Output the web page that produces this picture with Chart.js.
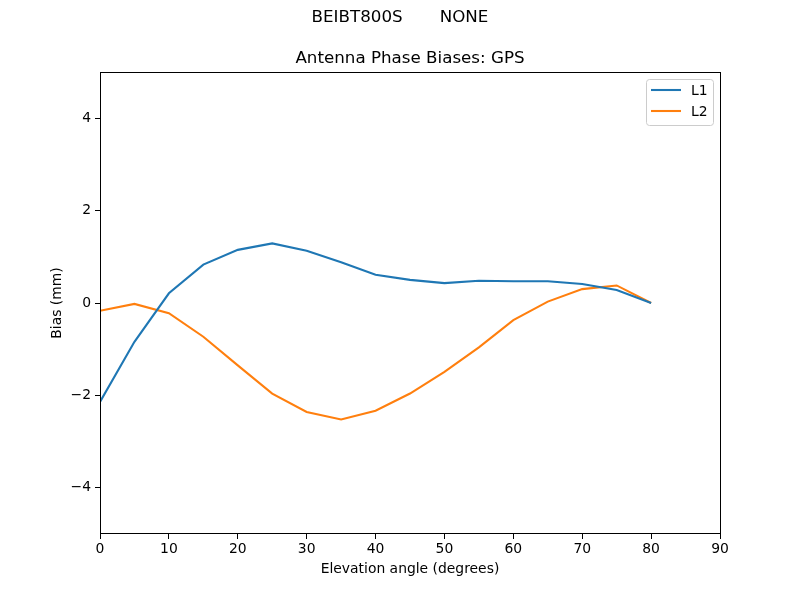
<!DOCTYPE html>
<html>
<head>
<meta charset="utf-8">
<script src="https://cdn.jsdelivr.net/npm/chart.js@4"></script>
<style>
html,body{margin:0;padding:0;background:#fff;}
#wrap{width:800px;height:600px;}
</style>
</head>
<body>
<div id="wrap"><canvas id="c" width="800" height="600"></canvas></div>
<script>
const suptitle = "BEIBT800S       NONE";
const title = "Antenna Phase Biases: GPS";
const xLabel = "Elevation angle (degrees)";
const yLabel = "Bias (mm)";
const elevations = [0, 5, 10, 15, 20, 25, 30, 35, 40, 45, 50, 55, 60, 65, 70, 75, 80];
const l1 = [-2.14, -0.84, 0.21, 0.83, 1.15, 1.29, 1.13, 0.88, 0.61, 0.50, 0.43, 0.48, 0.47, 0.47, 0.41, 0.28, 0.0];
const l2 = [-0.17, -0.02, -0.22, -0.73, -1.35, -1.96, -2.36, -2.52, -2.33, -1.96, -1.49, -0.96, -0.37, 0.03, 0.30, 0.38, 0.0];
const seriesNames = ["L1", "L2"];
const colors = ["#1f77b4", "#ff7f0e"];
const xTicks = [0, 10, 20, 30, 40, 50, 60, 70, 80, 90];
const yTicks = [-4, -2, 0, 2, 4];

const FONT = "'DejaVu Sans', sans-serif";

const pts = (ys) => elevations.map((x, i) => ({x: x, y: ys[i]}));

const decor = {
  id: 'decor',
  afterDraw(chart) {
    const ctx = chart.ctx;
    const a = chart.chartArea;
    ctx.save();
    // frame
    ctx.strokeStyle = '#000';
    ctx.lineWidth = 1;
    ctx.strokeRect(Math.floor(a.left) + 0.5, Math.floor(a.top) + 0.5, Math.round(a.right - a.left), Math.round(a.bottom - a.top) - 1);
    // titles
    ctx.fillStyle = '#000';
    ctx.textAlign = 'center';
    ctx.textBaseline = 'middle';
    ctx.font = "16.7px " + FONT;
    ctx.fillText(suptitle, 400, 18);
    ctx.fillText(title, (a.left + a.right) / 2, 59);
    // axis labels
    ctx.font = "13.9px " + FONT;
    ctx.fillText(xLabel, (a.left + a.right) / 2, 569);
    ctx.save();
    ctx.translate(57, (a.top + a.bottom) / 2);
    ctx.rotate(-Math.PI / 2);
    ctx.fillText(yLabel, 0, 0);
    ctx.restore();
    // legend
    const lx = 646, ly = 79, lw = 67, lh = 46;
    ctx.fillStyle = 'rgba(255,255,255,0.8)';
    ctx.strokeStyle = '#cccccc';
    ctx.beginPath();
    if (ctx.roundRect) ctx.roundRect(lx + 0.5, ly + 0.5, lw, lh, 3); else ctx.rect(lx + 0.5, ly + 0.5, lw, lh);
    ctx.fill();
    ctx.stroke();
    chart.data.datasets.forEach((ds, i) => {
      const y = 90 + i * 21;
      ctx.strokeStyle = ds.borderColor;
      ctx.lineWidth = 2.08;
      ctx.beginPath();
      ctx.moveTo(651, y);
      ctx.lineTo(681, y);
      ctx.stroke();
      ctx.fillStyle = '#000';
      ctx.textAlign = 'left';
      ctx.font = "13.9px " + FONT;
      ctx.fillText(ds.label, 691, y + 1);
    });
    ctx.restore();
  }
};

new Chart(document.getElementById('c'), {
  type: 'line',
  data: {
    datasets: [
      {label: seriesNames[0], data: pts(l1), borderColor: colors[0], backgroundColor: colors[0], borderWidth: 2.08, pointRadius: 0, tension: 0, fill: false},
      {label: seriesNames[1], data: pts(l2), borderColor: colors[1], backgroundColor: colors[1], borderWidth: 2.08, pointRadius: 0, tension: 0, fill: false}
    ]
  },
  options: {
    responsive: false,
    animation: false,
    devicePixelRatio: 1,
    layout: {padding: {left: 0, right: 80, top: 72, bottom: 0}},
    plugins: {legend: {display: false}, title: {display: false}, tooltip: {enabled: false}},
    scales: {
      x: {
        type: 'linear',
        min: 0, max: 90,
        afterFit(s) { s.height = 66; },
        afterBuildTicks(s) { s.ticks = xTicks.map(v => ({value: v})); },
        grid: {display: true, drawOnChartArea: false, drawTicks: true, tickLength: 5, color: '#000', lineWidth: 1},
        border: {display: false},
        ticks: {color: '#000', font: {family: FONT, size: 13.9}, padding: 2, maxRotation: 0, autoSkip: false, callback: v => String(v)}
      },
      y: {
        type: 'linear',
        min: -5, max: 5,
        afterFit(s) { s.width = 100; },
        afterBuildTicks(s) { s.ticks = yTicks.map(v => ({value: v})); },
        grid: {display: true, drawOnChartArea: false, drawTicks: true, tickLength: 5, color: '#000', lineWidth: 1},
        border: {display: false},
        ticks: {color: '#000', font: {family: FONT, size: 13.9}, padding: 4, autoSkip: false, callback: v => String(v).replace('-', '\u2212')}
      }
    }
  },
  plugins: [decor]
});
</script>
</body>
</html>
